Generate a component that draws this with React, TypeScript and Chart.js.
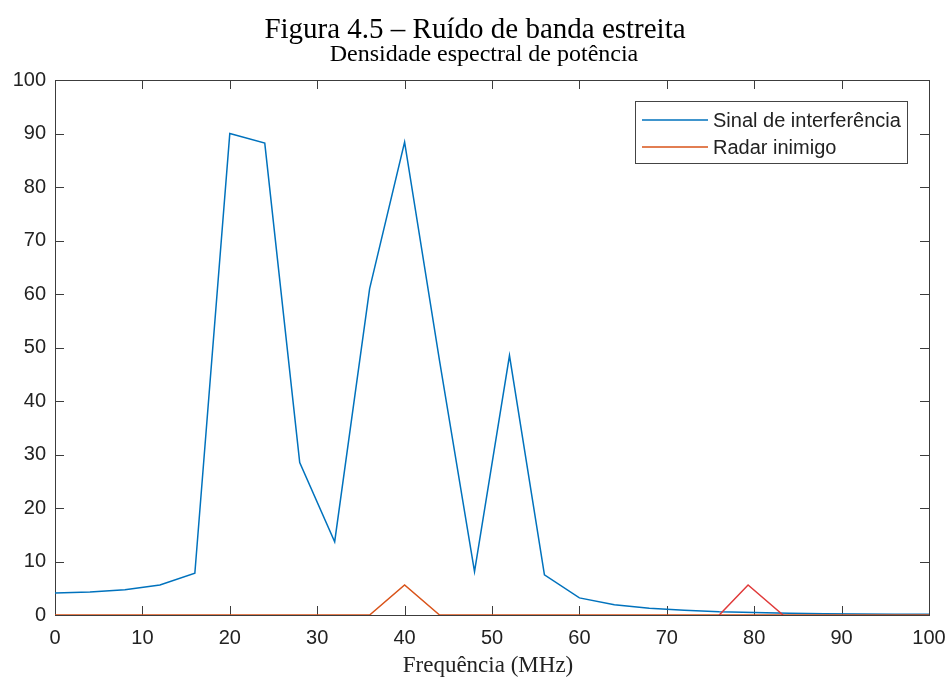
import React, { useEffect, useRef } from "react";
import { Chart, registerables } from "chart.js";

Chart.register(...registerables);

const freqInterf = [0, 4, 8, 12, 16, 20, 24, 28, 32, 36, 40, 44, 48, 52, 56, 60, 64, 68, 72, 76, 80, 84, 88, 92, 96, 100];
const sinalInterf = [4.1, 4.3, 4.7, 5.6, 7.8, 90.0, 88.2, 28.5, 13.7, 61.0, 88.4, 47.5, 8.1, 48.5, 7.5, 3.2, 1.9, 1.25, 0.9, 0.6, 0.45, 0.35, 0.25, 0.2, 0.15, 0.12];
const freqRadar = [0, 36, 40, 44, 100];
const radarInimigo = [0, 0, 5.6, 0, 0];
const freqRadar2 = [76, 79.3, 83.3];
const radarInimigo2 = [0, 5.6, 0];

const xTicks = [0, 10, 20, 30, 40, 50, 60, 70, 80, 90, 100];
const yTicks = [0, 10, 20, 30, 40, 50, 60, 70, 80, 90, 100];

const labelInterf = "Sinal de interferência";
const labelRadar = "Radar inimigo";
const figTitle = "Figura 4.5 – Ruído de banda estreita";
const plotTitle = "Densidade espectral de potência";
const xLabel = "Frequência (MHz)";

const BLUE = "#0072BD";
const ORANGE = "#D95319";
const RED = "#E03A3A";
const AXIS = "#3c3c3c";

const boxPlugin = {
  id: "matlabBox",
  beforeDatasetsDraw(chart: any) {
    const { ctx, chartArea } = chart;
    const { left, right, top, bottom } = chartArea;
    const xs = chart.scales.x;
    const ys = chart.scales.y;
    ctx.save();
    ctx.strokeStyle = AXIS;
    ctx.lineWidth = 1;
    ctx.strokeRect(Math.round(left) + 0.5, Math.round(top) + 0.5, Math.round(right - left), Math.round(bottom - top));
    const tl = 9;
    ctx.beginPath();
    xTicks.forEach((v) => {
      const x = Math.round(xs.getPixelForValue(v)) + 0.5;
      ctx.moveTo(x, bottom);
      ctx.lineTo(x, bottom - tl);
      ctx.moveTo(x, top);
      ctx.lineTo(x, top + tl);
    });
    yTicks.forEach((v) => {
      const y = Math.round(ys.getPixelForValue(v)) + 0.5;
      ctx.moveTo(left, y);
      ctx.lineTo(left + tl, y);
      ctx.moveTo(right, y);
      ctx.lineTo(right - tl, y);
    });
    ctx.stroke();
    ctx.restore();
  },
  afterDraw(chart: any) {
    const { ctx } = chart;
    ctx.save();
    ctx.fillStyle = "#000";
    ctx.textAlign = "center";
    ctx.textBaseline = "alphabetic";
    ctx.font = "29px 'Liberation Serif', 'Times New Roman', serif";
    ctx.fillText(figTitle, 475, 38);
    ctx.font = "24px 'Liberation Serif', 'Times New Roman', serif";
    ctx.fillText(plotTitle, 484, 61);
    ctx.font = "23px 'Liberation Serif', 'Times New Roman', serif";
    ctx.fillStyle = "#222";
    ctx.fillText(xLabel, 488, 672);

    // legend
    const lx = 635.5, ly = 101.5, lw = 272, lh = 62;
    ctx.fillStyle = "#fff";
    ctx.fillRect(lx, ly, lw, lh);
    ctx.strokeStyle = "#444";
    ctx.lineWidth = 1;
    ctx.strokeRect(lx, ly, lw, lh);
    const items = [
      { label: labelInterf, color: BLUE, y: 120 },
      { label: labelRadar, color: ORANGE, y: 147 },
    ];
    ctx.font = "20px 'Liberation Sans', Arial, sans-serif";
    ctx.textAlign = "left";
    ctx.textBaseline = "middle";
    items.forEach((it) => {
      ctx.strokeStyle = it.color;
      ctx.lineWidth = 1.5;
      ctx.beginPath();
      ctx.moveTo(642, it.y);
      ctx.lineTo(708, it.y);
      ctx.stroke();
      ctx.fillStyle = "#222";
      ctx.fillText(it.label, 713, it.y + 1);
    });
    ctx.restore();
  },
};

export default function App() {
  const ref = useRef<HTMLCanvasElement>(null);
  useEffect(() => {
    if (!ref.current) return;
    const chart = new Chart(ref.current, {
      type: "line",
      data: {
        datasets: [
          {
            label: labelInterf,
            data: freqInterf.map((x, i) => ({ x, y: sinalInterf[i] })),
            borderColor: BLUE,
            borderWidth: 1.5,
            pointRadius: 0,
            tension: 0,
            fill: false,
            order: 3,
          },
          {
            label: labelRadar,
            data: freqRadar.map((x, i) => ({ x, y: radarInimigo[i] })),
            borderColor: ORANGE,
            borderWidth: 1.5,
            pointRadius: 0,
            tension: 0,
            fill: false,
            order: 2,
          },
          {
            label: "",
            data: freqRadar2.map((x, i) => ({ x, y: radarInimigo2[i] })),
            borderColor: RED,
            borderWidth: 1.5,
            pointRadius: 0,
            tension: 0,
            fill: false,
            order: 1,
          },
        ],
      },
      options: {
        responsive: false,
        animation: false,
        devicePixelRatio: 1,
        layout: { padding: { top: 80, left: 0, right: 19, bottom: 0 } },
        plugins: {
          legend: { display: false },
          title: { display: false },
          tooltip: { enabled: false },
        },
        scales: {
          x: {
            type: "linear",
            min: 0,
            max: 100,
            afterFit: (s: any) => {
              s.height = 65;
              s.paddingLeft = 0;
              s.paddingRight = 0;
            },
            afterBuildTicks: (s: any) => {
              s.ticks = xTicks.map((v) => ({ value: v }));
            },
            grid: { display: false, drawTicks: false },
            border: { display: false },
            ticks: {
              padding: 11,
              color: "#222",
              font: { family: "'Liberation Sans', Arial, sans-serif", size: 20 },
              maxRotation: 0,
              autoSkip: false,
            },
          },
          y: {
            type: "linear",
            min: 0,
            max: 100,
            afterFit: (s: any) => {
              s.width = 55;
              s.paddingTop = 0;
              s.paddingBottom = 0;
            },
            afterBuildTicks: (s: any) => {
              s.ticks = yTicks.map((v) => ({ value: v }));
            },
            grid: { display: false, drawTicks: false },
            border: { display: false },
            ticks: {
              padding: 9,
              color: "#222",
              font: { family: "'Liberation Sans', Arial, sans-serif", size: 20 },
              autoSkip: false,
            },
          },
        },
      },
      plugins: [boxPlugin],
    });
    return () => chart.destroy();
  }, []);
  return (
    <div style={{ position: "absolute", left: 0, top: 0, width: 948, height: 680, background: "#fff" }}>
      <canvas ref={ref} width={948} height={680} style={{ display: "block" }} />
    </div>
  );
}
